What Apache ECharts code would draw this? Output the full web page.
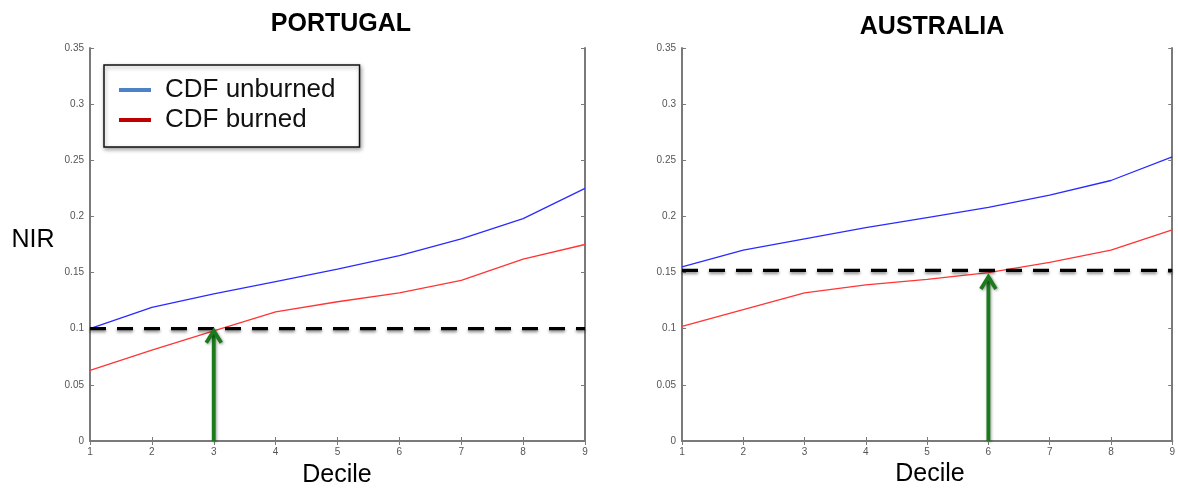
<!DOCTYPE html>
<html>
<head>
<meta charset="utf-8">
<script src="https://cdn.jsdelivr.net/npm/echarts@6/dist/echarts.min.js"></script>
<style>
  html, body { margin: 0; padding: 0; background: #fff; }
  #chart { width: 1178px; height: 488px; }
</style>
</head>
<body>
<div id="chart"></div>
<script>
// Deciles on the x axis
const deciles = [1, 2, 3, 4, 5, 6, 7, 8, 9];

// Portugal: NIR value at each decile
const ptUnburned = [0.100, 0.119, 0.131, 0.142, 0.153, 0.165, 0.180, 0.198, 0.225];
const ptBurned   = [0.063, 0.081, 0.098, 0.115, 0.124, 0.132, 0.143, 0.162, 0.175];
const ptThreshold = 0.100;
const ptCrossDecile = 3;
const ptCrossValue = 0.099;

// Australia: NIR value at each decile
const auUnburned = [0.155, 0.170, 0.180, 0.190, 0.199, 0.208, 0.219, 0.232, 0.253];
const auBurned   = [0.102, 0.117, 0.132, 0.139, 0.144, 0.150, 0.159, 0.170, 0.188];
const auThreshold = 0.152;
const auCrossDecile = 6;
const auCrossValue = 0.147;

const panelTitles = ['PORTUGAL', 'AUSTRALIA'];
const seriesNames = ['CDF unburned', 'CDF burned'];

const FONT = 'Liberation Sans, Arial, Helvetica, sans-serif';
const FRAME = '#7a7a7a';

const pairs = (xs, ys) => xs.map((x, i) => [x, ys[i]]);

function axesFor(gridIndex) {
  const tick = { show: true, inside: true, length: 4, lineStyle: { color: FRAME, width: 1 } };
  const line = { show: true, lineStyle: { color: FRAME, width: 2 } };
  return {
    x: [
      { gridIndex, type: 'value', min: 1, max: 9, interval: 1, position: 'bottom',
        axisLine: line, axisTick: tick, splitLine: { show: false },
        axisLabel: { fontSize: 10, color: '#555', margin: 6, fontFamily: FONT } },
      { gridIndex, type: 'value', min: 1, max: 9, interval: 1, position: 'top',
        axisLine: line, axisTick: tick, splitLine: { show: false }, axisLabel: { show: false } }
    ],
    y: [
      { gridIndex, type: 'value', min: 0, max: 0.35, interval: 0.05, position: 'left',
        axisLine: line, axisTick: tick, splitLine: { show: false },
        axisLabel: { fontSize: 10, color: '#555', margin: 6, fontFamily: FONT,
                     formatter: v => String(+v.toFixed(2)) } },
      { gridIndex, type: 'value', min: 0, max: 0.35, interval: 0.05, position: 'right',
        axisLine: line, axisTick: tick, splitLine: { show: false }, axisLabel: { show: false } }
    ]
  };
}

const a0 = axesFor(0), a1 = axesFor(1);
const xAxes = [...a0.x, ...a1.x];   // 0,1 -> grid0 ; 2,3 -> grid1
const yAxes = [...a0.y, ...a1.y];

function panelSeries(xi, yi, unburned, burned, threshold, crossX, crossY) {
  return [
    { name: seriesNames[0], type: 'line', xAxisIndex: xi, yAxisIndex: yi,
      data: pairs(deciles, unburned), showSymbol: false, z: 2,
      lineStyle: { color: '#2b2bff', width: 1.3 }, itemStyle: { color: '#2b2bff' } },
    { name: seriesNames[1], type: 'line', xAxisIndex: xi, yAxisIndex: yi,
      data: pairs(deciles, burned), showSymbol: false, z: 2,
      lineStyle: { color: '#ff3535', width: 1.3 }, itemStyle: { color: '#ff3535' } },
    { type: 'line', xAxisIndex: xi, yAxisIndex: yi, silent: true,
      data: [[deciles[0], threshold], [deciles[deciles.length - 1], threshold]],
      showSymbol: false, z: 3,
      lineStyle: { color: '#000', width: 3.2, type: [16, 11],
                   shadowBlur: 3, shadowColor: 'rgba(0,0,0,0.45)', shadowOffsetY: 2 } },
    { type: 'custom', xAxisIndex: xi, yAxisIndex: yi, silent: true, z: 4,
      data: [[crossX, crossY]],
      renderItem: (params, api) => {
        const tip = api.coord([api.value(0), api.value(1)]);
        const base = api.coord([api.value(0), 0]);
        const style = { stroke: '#1b7a1b', lineWidth: 3.8, fill: null,
                        shadowBlur: 3, shadowColor: 'rgba(0,0,0,0.4)', shadowOffsetX: 1, shadowOffsetY: 1 };
        return {
          type: 'group',
          children: [
            { type: 'line', shape: { x1: base[0], y1: base[1], x2: tip[0], y2: tip[1] + 1 }, style },
            { type: 'polyline', shape: { points: [[tip[0] - 7.5, tip[1] + 13], [tip[0], tip[1] + 1], [tip[0] + 7.5, tip[1] + 13]] }, style }
          ]
        };
      } }
  ];
}

const option = {
  animation: false,
  backgroundColor: '#fff',
  grid: [
    { left: 90, top: 48, width: 495, height: 393 },
    { left: 682, top: 48, width: 493, height: 393 }
  ],
  xAxis: xAxes,
  yAxis: yAxes,
  legend: {
    orient: 'vertical',
    left: 104, top: 65,
    padding: [12, 24, 14, 15],
    itemGap: 4,
    itemWidth: 32, itemHeight: 4,
    icon: 'rect',
    backgroundColor: '#fff',
    borderColor: '#111', borderWidth: 1.5,
    shadowBlur: 4, shadowColor: 'rgba(0,0,0,0.35)', shadowOffsetX: 1, shadowOffsetY: 2,
    textStyle: { fontSize: 26, lineHeight: 26, color: '#111', fontFamily: FONT, padding: [0, 0, 0, 9] },
    data: [
      { name: seriesNames[0], itemStyle: { color: '#4f81c7' } },
      { name: seriesNames[1], itemStyle: { color: '#c00000' } }
    ]
  },
  graphic: [
    { type: 'text', x: 341, y: 24, style: { text: panelTitles[0], textAlign: 'center', textVerticalAlign: 'middle', font: 'bold 25px ' + FONT, fill: '#000' } },
    { type: 'text', x: 932, y: 27, style: { text: panelTitles[1], textAlign: 'center', textVerticalAlign: 'middle', font: 'bold 25px ' + FONT, fill: '#000' } },
    { type: 'text', x: 33, y: 240, style: { text: 'NIR', textAlign: 'center', textVerticalAlign: 'middle', font: '25px ' + FONT, fill: '#000' } },
    { type: 'text', x: 337, y: 475, style: { text: 'Decile', textAlign: 'center', textVerticalAlign: 'middle', font: '25px ' + FONT, fill: '#000' } },
    { type: 'text', x: 930, y: 474, style: { text: 'Decile', textAlign: 'center', textVerticalAlign: 'middle', font: '25px ' + FONT, fill: '#000' } }
  ],
  series: [
    ...panelSeries(0, 0, ptUnburned, ptBurned, ptThreshold, ptCrossDecile, ptCrossValue),
    ...panelSeries(2, 2, auUnburned, auBurned, auThreshold, auCrossDecile, auCrossValue)
  ]
};

const chart = echarts.init(document.getElementById('chart'), null, { renderer: 'canvas' });
chart.setOption(option);
</script>
</body>
</html>
